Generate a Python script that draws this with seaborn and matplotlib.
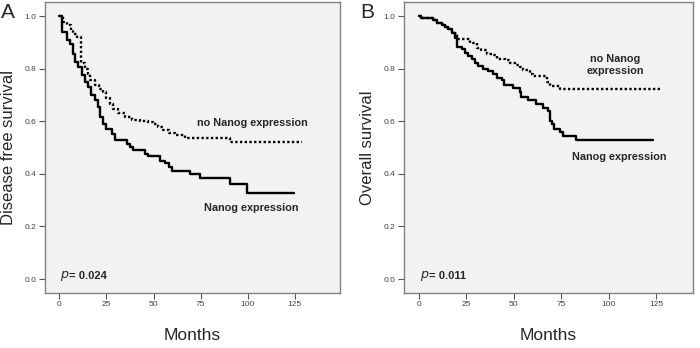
import matplotlib
matplotlib.use('Agg')
import matplotlib.pyplot as plt
import numpy as np
import pandas as pd
import seaborn as sns

# panel A - disease free survival (months, survival fraction)
a_nanog_t = [0, 1.2, 4, 5.7, 7, 8.3, 10, 12, 13.6, 15.4, 17, 19, 20.7, 21.6, 23.4, 25, 27.8, 29.6,
             35.8, 37.5, 39.3, 45.5, 47.3, 53.5, 56, 58, 59.7, 69.4, 74.7, 90.6, 99.5, 124.6]
a_nanog_s = [1.0, 0.94, 0.91, 0.895, 0.857, 0.825, 0.806, 0.775, 0.75, 0.73, 0.70, 0.68, 0.655, 0.617,
             0.59, 0.57, 0.553, 0.527, 0.515, 0.502, 0.49, 0.477, 0.467, 0.45, 0.44, 0.426, 0.41, 0.40,
             0.385, 0.362, 0.328, 0.328]
a_no_t = [0, 2, 4, 6, 7.4, 9.2, 11.4, 13.6, 15.4, 16.3, 19, 21, 23.4, 25, 27, 28.7, 31.3, 35, 38.4,
          42.8, 47, 49.9, 52.5, 55, 58, 61.4, 66.7, 90.6, 128.7]
a_no_s = [1.0, 0.977, 0.965, 0.945, 0.933, 0.92, 0.82, 0.80, 0.78, 0.755, 0.736, 0.724, 0.71, 0.69,
          0.667, 0.648, 0.63, 0.616, 0.606, 0.60, 0.597, 0.59, 0.578, 0.565, 0.555, 0.546, 0.537,
          0.521, 0.521]

# panel B - overall survival
b_nanog_t = [0, 0.9, 7.6, 9.3, 12, 13.7, 15.5, 17.2, 19, 19.9, 22.5, 24.3, 26, 27.8, 29.5, 31.3, 34,
             36.6, 39.2, 41, 43.6, 44.8, 49.8, 53.3, 54, 57.7, 62, 65.6, 68.2, 69, 70, 71.2, 74.4, 76,
             83, 123.2]
b_nanog_s = [1.0, 0.991, 0.985, 0.975, 0.966, 0.96, 0.95, 0.934, 0.915, 0.883, 0.873, 0.86, 0.848,
             0.835, 0.82, 0.81, 0.80, 0.79, 0.78, 0.766, 0.756, 0.737, 0.728, 0.711, 0.692, 0.68,
             0.667, 0.65, 0.64, 0.60, 0.59, 0.57, 0.56, 0.543, 0.527, 0.527]
b_no_t = [0, 0.9, 7.6, 9.3, 12, 13.7, 15.5, 17.2, 20, 27, 30.4, 33, 35.7, 39.2, 41, 45.4, 48, 50.6,
          53.3, 55, 58.5, 60.3, 67.3, 69, 74.4, 127]
b_no_s = [1.0, 0.991, 0.985, 0.975, 0.966, 0.96, 0.95, 0.934, 0.911, 0.896, 0.877, 0.87, 0.857,
          0.85, 0.835, 0.832, 0.82, 0.813, 0.807, 0.794, 0.78, 0.771, 0.75, 0.733, 0.724, 0.724]

y_ticks = [0.0, 0.2, 0.4, 0.6, 0.8, 1.0]
x_ticks = [0, 25, 50, 75, 100, 125]

sns.set_style('white')
plt.rcParams['font.family'] = ['Liberation Sans', 'DejaVu Sans']

fig = plt.figure(figsize=(7, 3.48), dpi=100)
axA = fig.add_axes([0.0643, 0.158, 0.4214, 0.836])
axB = fig.add_axes([0.577, 0.158, 0.413, 0.836])

panels = [
    (axA, a_nanog_t, a_nanog_s, a_no_t, a_no_s, 'Disease free survival', (-7.6, 149), 'A', '0.024'),
    (axB, b_nanog_t, b_nanog_s, b_no_t, b_no_s, 'Overall survival', (-7.9, 144.5), 'B', '0.011'),
]

for ax, nt, ns, ot, os_, ylab, xlim, letter, pval in panels:
    df_n = pd.DataFrame({'Months': nt, 'Survival': ns})
    df_o = pd.DataFrame({'Months': ot, 'Survival': os_})
    sns.lineplot(data=df_n, x='Months', y='Survival', ax=ax, color='black', lw=1.7,
                 drawstyle='steps-post', estimator=None)
    sns.lineplot(data=df_o, x='Months', y='Survival', ax=ax, color='black', lw=1.7,
                 linestyle=(0, (1, 1)), drawstyle='steps-post', estimator=None)
    ax.set_facecolor('#f2f2f2')
    ax.set_xlim(*xlim)
    ax.set_ylim(-0.053, 1.053)
    ax.set_xticks(x_ticks)
    ax.set_yticks(y_ticks)
    ax.set_yticklabels([f'{v:.1f}' for v in y_ticks])
    ax.tick_params(axis='both', direction='out', length=4, width=0.8, color='#555555',
                   labelsize=6, labelcolor='#444444', pad=2, left=True, bottom=True)
    for sp in ax.spines.values():
        sp.set_color('#808080')
        sp.set_linewidth(1.0)
    ax.set_xlabel('Months', fontsize=12.5, labelpad=14)
    ax.set_ylabel(ylab, fontsize=12, labelpad=6)
    ax.text(0.4, 0.011, r'$p$', fontsize=9, va='center', ha='left')
    ax.text(5.2, 0.011, '= ' + pval, fontsize=8, fontweight='bold', va='center', ha='left')

axA.text(73.2, 0.593, 'no Nanog expression', fontsize=7.8, fontweight='bold', va='center')
axA.text(76.9, 0.27, 'Nanog expression', fontsize=7.8, fontweight='bold', va='center')
axB.text(103.7, 0.815, 'no Nanog\nexpression', fontsize=7.8, fontweight='bold', va='center',
         ha='center', linespacing=1.25)
axB.text(105.4, 0.463, 'Nanog expression', fontsize=7.8, fontweight='bold', va='center', ha='center')

fig.text(8 / 700, 1 - 13 / 348, 'A', fontsize=15, ha='center', va='center')
fig.text(367 / 700, 1 - 13 / 348, 'B', fontsize=15, ha='center', va='center')

fig.savefig('out.png', dpi=100)
